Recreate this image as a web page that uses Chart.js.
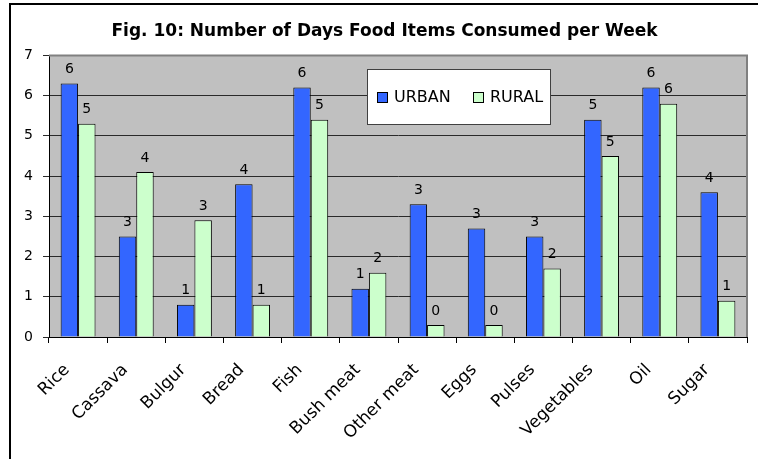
<!DOCTYPE html>
<html>
<head>
<meta charset="utf-8">
<script src="https://cdn.jsdelivr.net/npm/chart.js@4.4.0/dist/chart.umd.min.js"></script>
<style>
  html, body { margin: 0; padding: 0; background: #fff; }
  #wrap { width: 758px; height: 459px; }
</style>
</head>
<body>
<div id="wrap"><canvas id="foodChart" width="758" height="459"></canvas></div>
<script>
// Data
const foodItems = ['Rice', 'Cassava', 'Bulgur', 'Bread', 'Fish', 'Bush meat', 'Other meat', 'Eggs', 'Pulses', 'Vegetables', 'Oil', 'Sugar'];
const urbanDays = [6.3, 2.5, 0.8, 3.8, 6.2, 1.2, 3.3, 2.7, 2.5, 5.4, 6.2, 3.6];
const ruralDays = [5.3, 4.1, 2.9, 0.8, 5.4, 1.6, 0.3, 0.3, 1.7, 4.5, 5.8, 0.9];
const yTicks = [0, 1, 2, 3, 4, 5, 6, 7];

const FONT = 'DejaVu Sans';

// frame, plot background, value labels, legend box and plot border
const excelLook = {
    id: 'excelLook',
    beforeDraw(chart) {
        const ctx = chart.ctx;
        const a = chart.chartArea;
        ctx.save();
        ctx.fillStyle = '#000';
        ctx.fillRect(9, 3, 2, chart.height - 3);
        ctx.fillRect(9, 3, chart.width - 9, 2);
        ctx.fillStyle = '#C0C0C0';
        ctx.fillRect(a.left, a.top, a.right - a.left, a.bottom - a.top);
        ctx.restore();
    },
    afterDatasetsDraw(chart) {
        const ctx = chart.ctx;
        ctx.save();
        ctx.font = '14px ' + FONT;
        ctx.fillStyle = '#000';
        ctx.textAlign = 'center';
        ctx.textBaseline = 'middle';
        chart.data.datasets.forEach((ds, i) => {
            chart.getDatasetMeta(i).data.forEach((bar, j) => {
                ctx.fillText(String(Math.round(ds.data[j])), bar.x, bar.y - 14);
            });
        });
        ctx.restore();
    },
    afterDraw(chart) {
        const ctx = chart.ctx;
        const a = chart.chartArea;
        ctx.save();
        // top and right plot border
        ctx.strokeStyle = '#808080';
        ctx.lineWidth = 2;
        ctx.beginPath();
        ctx.moveTo(a.left, a.top);
        ctx.lineTo(a.right, a.top);
        ctx.lineTo(a.right, a.bottom);
        ctx.stroke();

        // legend inside the plot
        const lx = 367, ly = 69, lw = 184, lh = 56;
        ctx.fillStyle = '#fff';
        ctx.fillRect(lx, ly, lw, lh);
        ctx.strokeStyle = '#404040';
        ctx.lineWidth = 1;
        ctx.strokeRect(lx + 0.5, ly + 0.5, lw - 1, lh - 1);
        ctx.font = '16px ' + FONT;
        ctx.textAlign = 'left';
        ctx.textBaseline = 'middle';
        const itemX = [377, 473];
        chart.data.datasets.forEach((ds, i) => {
            const x = itemX[i];
            ctx.fillStyle = ds.backgroundColor;
            ctx.fillRect(x, 92, 10, 10);
            ctx.strokeStyle = '#000';
            ctx.strokeRect(x + 0.5, 92.5, 10, 10);
            ctx.fillStyle = '#000';
            ctx.fillText(ds.label, x + 17, 97.5);
        });
        ctx.restore();
    }
};

new Chart(document.getElementById('foodChart'), {
    type: 'bar',
    data: {
        labels: foodItems,
        datasets: [{
            label: 'URBAN',
            data: urbanDays,
            backgroundColor: '#3366FF',
            borderColor: '#000',
            borderWidth: 1,
            categoryPercentage: 0.6,
            barPercentage: 1
        }, {
            label: 'RURAL',
            data: ruralDays,
            backgroundColor: '#CCFFCC',
            borderColor: '#000',
            borderWidth: 1,
            categoryPercentage: 0.6,
            barPercentage: 1
        }]
    },
    options: {
        responsive: false,
        animation: false,
        layout: {
            padding: { left: 22, right: 11, top: 0, bottom: 0 }
        },
        scales: {
            y: {
                min: 0,
                max: 7,
                afterFit: (scale) => { scale.width = 27; },
                afterBuildTicks: (scale) => {
                    scale.ticks = yTicks.map(v => ({ value: v }));
                },
                grid: {
                    color: '#2a2a2a',
                    lineWidth: 1,
                    tickLength: 6,
                    drawTicks: true
                },
                border: { color: '#000', width: 1 },
                ticks: {
                    color: '#000',
                    padding: 10,
                    font: { family: FONT, size: 14 }
                }
            },
            x: {
                afterFit: (scale) => { scale.height = 122; },
                grid: {
                    drawOnChartArea: false,
                    color: '#000',
                    tickLength: 6
                },
                border: { color: '#000', width: 1 },
                ticks: {
                    color: '#000',
                    autoSkip: false,
                    minRotation: 45,
                    maxRotation: 45,
                    padding: 17,
                    labelOffset: -11,
                    font: { family: FONT, size: 17 }
                }
            }
        },
        plugins: {
            legend: { display: false },
            tooltip: { enabled: false },
            title: {
                display: true,
                text: 'Fig. 10: Number of Days Food Items Consumed per Week',
                color: '#000',
                padding: { top: 21, bottom: 14 },
                font: { family: FONT, size: 17, weight: 'bold', lineHeight: 1.2 }
            }
        }
    },
    plugins: [excelLook]
});
</script>
</body>
</html>
